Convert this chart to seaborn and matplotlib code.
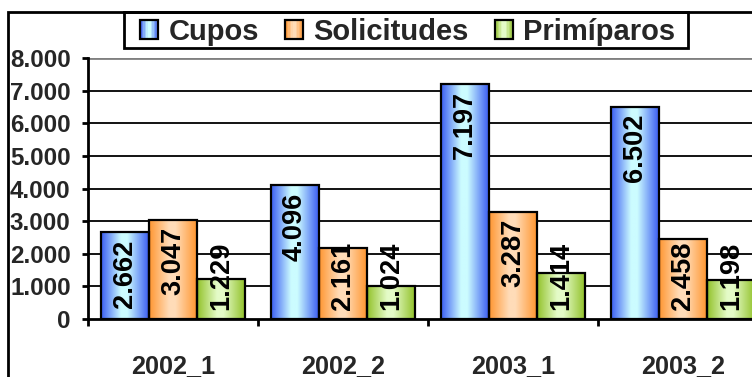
import matplotlib
matplotlib.use("Agg")
import matplotlib.pyplot as plt
import numpy as np
import pandas as pd
import seaborn as sns
from matplotlib.patches import Rectangle
from matplotlib.colors import LinearSegmentedColormap
from matplotlib.legend_handler import HandlerBase

# Semesters and the three series
periodos = ["2002_1", "2002_2", "2003_1", "2003_2"]
cupos = [2662, 4096, 7197, 6502]
solicitudes = [3047, 2161, 3287, 2458]
primiparos = [1229, 1024, 1414, 1198]
series = ["Cupos", "Solicitudes", "Primíparos"]
y_ticks = [0, 1000, 2000, 3000, 4000, 5000, 6000, 7000, 8000]

# edge colour / highlight colour for each series' cylinder-like shading
shades = {
    "Cupos": ("#3a5cf2", "#ccfcff"),
    "Solicitudes": ("#ff9630", "#ffdcb8"),
    "Primíparos": ("#92c22a", "#e4fbc8"),
}


def gradient_cmap(name):
    dark, light = shades[name]
    return LinearSegmentedColormap.from_list(
        name, [(0.0, dark), (0.42, light), (0.55, light), (1.0, dark)])


def fmt(v):
    return f"{v:,}".replace(",", ".")


df = pd.DataFrame({
    "periodo": np.repeat(periodos, 3),
    "serie": series * len(periodos),
    "valor": [v for trio in zip(cupos, solicitudes, primiparos) for v in trio],
})

sns.set_theme(style="white")
plt.rcParams["font.family"] = ["Liberation Sans", "DejaVu Sans"]
plt.rcParams["font.weight"] = "bold"

W, H, DPI = 752, 377, 100
fig = plt.figure(figsize=(W / DPI, H / DPI), dpi=DPI)
ax = fig.add_axes([88 / W, 58 / H, 680 / W, 261 / H])

palette = {s: shades[s][0] for s in series}
sns.barplot(data=df, x="periodo", y="valor", hue="serie", order=periodos,
            hue_order=series, palette=palette, width=0.847, gap=0,
            edgecolor="black", linewidth=1.6, saturation=1, legend=False,
            ax=ax)

ax.set_xlim(-0.5, 3.5)
ax.set_ylim(0, 8000)
ax.set_axisbelow(True)

# shaded fill for each bar, clipped to the bar rectangle
grad = np.linspace(0, 1, 256).reshape(1, -1)
for container, name in zip(ax.containers, series):
    cmap = gradient_cmap(name)
    for bar in container:
        x0, y0 = bar.get_x(), bar.get_y()
        w, h = bar.get_width(), bar.get_height()
        im = ax.imshow(grad, cmap=cmap, aspect="auto",
                       extent=(x0, x0 + w, y0, y0 + h), zorder=2,
                       interpolation="bilinear")
        im.set_clip_path(bar)
        bar.set_facecolor("none")
        bar.set_zorder(3)
ax.set_xlim(-0.5, 3.5)
ax.set_ylim(0, 8000)

# horizontal gridlines
for t in y_ticks[1:-1]:
    ax.axhline(t, color="black", lw=1.3, zorder=0.5)
ax.axhline(8000, color="#808080", lw=2, zorder=0.5)

# axes styling
for side in ["top", "right"]:
    ax.spines[side].set_visible(False)
for side in ["left", "bottom"]:
    ax.spines[side].set_color("black")
    ax.spines[side].set_linewidth(2)

ax.set_yticks(y_ticks)
ax.set_yticklabels([fmt(t) for t in y_ticks])
ax.tick_params(axis="y", direction="out", length=4.5, width=2, color="black",
               pad=8, labelsize=17.4, left=True)
ax.set_xticks(range(len(periodos)))
ax.set_xticklabels(periodos)
ax.set_xticks(np.arange(-0.5, 4.0, 1.0), minor=True)
ax.tick_params(axis="x", which="major", length=0, pad=25, labelsize=18.2)
ax.tick_params(axis="x", which="minor", direction="out", length=5,
               width=2, color="black", bottom=True)
for lbl in ax.get_xticklabels() + ax.get_yticklabels():
    lbl.set_fontweight("bold")
ax.set_xlabel("")
ax.set_ylabel("")

# value labels, rotated, near the top inside each bar
VAL_SIZE = 19.6
fig.canvas.draw()
renderer = fig.canvas.get_renderer()
for container in ax.containers:
    for bar in container:
        v = bar.get_height()
        xc = bar.get_x() + bar.get_width() / 2
        t = ax.annotate(fmt(int(round(v))), (xc, v), xytext=(0, -7),
                        textcoords="offset pixels", rotation=90,
                        ha="center", va="top", fontsize=VAL_SIZE,
                        fontweight="bold", color="black", zorder=4)
        ext = t.get_window_extent(renderer)
        base_px = ax.transData.transform((xc, 0))[1]
        if ext.y0 < base_px + 9:
            t.remove()
            ax.annotate(fmt(int(round(v))), (xc, 0), xytext=(0, 9),
                        textcoords="offset pixels", rotation=90,
                        ha="center", va="bottom", fontsize=VAL_SIZE,
                        fontweight="bold", color="black", zorder=4)


# legend keys drawn with the same shading
class ShadedHandler(HandlerBase):
    def create_artists(self, legend, orig_handle, xdescent, ydescent,
                       width, height, fontsize, trans):
        cmap = gradient_cmap(orig_handle.get_label())
        arts = []
        n = 12
        for i in range(n):
            arts.append(Rectangle((-xdescent + width * i / n, -ydescent),
                                  width / n + 0.3, height,
                                  facecolor=cmap((i + 0.5) / n),
                                  edgecolor="none", transform=trans))
        arts.append(Rectangle((-xdescent, -ydescent), width, height,
                              facecolor="none", edgecolor="black",
                              linewidth=1.6, transform=trans))
        return arts


handles = [Rectangle((0, 0), 1, 1, label=s) for s in series]
leg = fig.legend(handles=handles, labels=series, ncol=3, loc="center left",
                 bbox_to_anchor=(140 / W, 1 - 32 / H), borderaxespad=0,
                 frameon=False, borderpad=0,
                 prop={"weight": "bold", "size": 21},
                 handlelength=0.62, handleheight=0.62, handletextpad=0.35,
                 columnspacing=0.9,
                 handler_map={Rectangle: ShadedHandler()})

# legend box and outer chart frame
fig.patches.append(Rectangle((124 / W, 1 - 48 / H), 564 / W, 36 / H,
                             transform=fig.transFigure, facecolor="white",
                             edgecolor="black", linewidth=2, zorder=0))
fig.patches.append(Rectangle((8 / W, -0.2), 1.2, 1.2 - 12 / H,
                             transform=fig.transFigure, fill=False,
                             edgecolor="black", linewidth=2, zorder=0))

fig.savefig("out.png", dpi=DPI)
